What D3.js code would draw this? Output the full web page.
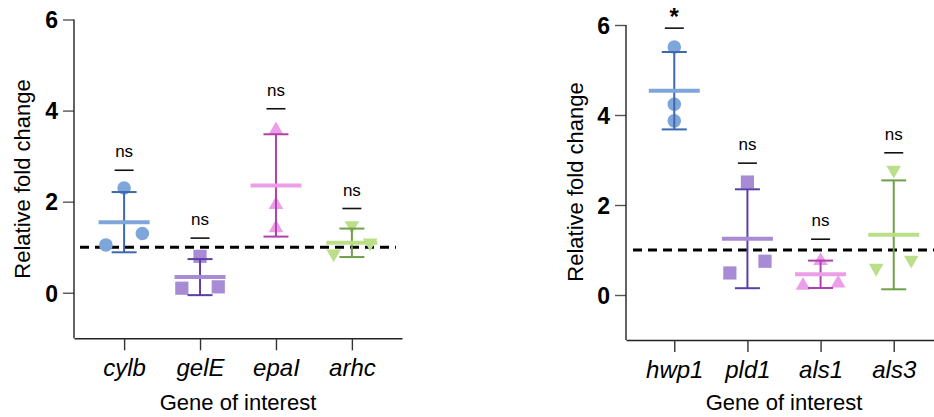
<!DOCTYPE html>
<html>
<head>
<meta charset="utf-8">
<script src="https://cdn.jsdelivr.net/npm/d3@7"></script>
<style>
	body { margin: 0; background: #fff; }
	svg text { font-family: "Liberation Sans", Arial, Helvetica, sans-serif; }
</style>
</head>
<body>
<div id="chart"></div>
<script>

	/* relative fold change per gene, three replicates each; slot = jitter column (-1 left, 0 middle, 1 right) */

	var genesLeft = ["cylb", "gelE", "epaI", "arhc"];
	var valuesLeft = [
		[2.3, 1.05, 1.3],
		[0.8, 0.1, 0.13],
		[3.62, 1.98, 1.47],
		[1.43, 0.81, 1.05]
	];
	var slotsLeft = [
		[0, -1, 1],
		[0, -1, 1],
		[0, 0, 0],
		[0, -1, 1]
	];
	var sigLeft = ["ns", "ns", "ns", "ns"];
	var sigLevelLeft = [2.69, 1.2, 4.04, 1.85];

	var genesRight = ["hwp1", "pld1", "als1", "als3"];
	var valuesRight = [
		[5.51, 4.24, 3.87],
		[2.51, 0.49, 0.75],
		[0.81, 0.26, 0.31],
		[2.73, 0.55, 0.73]
	];
	var slotsRight = [
		[0, 0, 0],
		[0, -1, 1],
		[0, -1, 1],
		[0, -1, 1]
	];
	var sigRight = ["*", "ns", "ns", "ns"];
	var sigLevelRight = [5.93, 2.93, 1.24, 3.16];

	var yTicks = [0, 2, 4, 6];
	var baseline = 1;

	var shapes = ["circle", "square", "triangleUp", "triangleDown"];
	var fills = ["#7ea6da", "#a78bd5", "#ec9ee9", "#badf88"];
	var strokes = ["#3e67b1", "#5c3ea7", "#b040ad", "#6f9f46"];

	var w = 934, h = 417;

	var svg = d3.select("#chart")
		.append("svg")
		.attr("width", w)
		.attr("height", h)
		.attr("viewBox", "0 0 " + w + " " + h);

	function circlePath(cx, cy, r) {
		var p = d3.path();
		p.arc(cx, cy, r, 0, 2 * Math.PI);
		p.closePath();
		return p.toString();
	}

	function symbolPath(shape, cx, cy) {
		if (shape == "circle") {
			return circlePath(cx, cy, 6.8);
		}
		if (shape == "square") {
			var s = 6.6;
			return "M" + (cx - s) + "," + (cy - s) + "H" + (cx + s) + "V" + (cy + s) + "H" + (cx - s) + "Z";
		}
		var hw = 7.3, hh = 6.4;
		if (shape == "triangleUp") {
			return "M" + cx + "," + (cy - hh) + "L" + (cx + hw) + "," + (cy + hh) + "L" + (cx - hw) + "," + (cy + hh) + "Z";
		}
		return "M" + cx + "," + (cy + hh) + "L" + (cx + hw) + "," + (cy - hh) + "L" + (cx - hw) + "," + (cy - hh) + "Z";
	}

	function drawPanel(cfg) {
		var g = svg.append("g").attr("class", "panel");

		var x = d3.scalePoint()
			.domain(cfg.genes)
			.range([cfg.x0, cfg.x1])
			.padding(0.66);

		var y = d3.scaleLinear()
			.domain([-1, 6])
			.range([cfg.y0, cfg.y1]);

		// y axis
		var yAxis = g.append("g")
			.attr("transform", "translate(" + cfg.x0 + ",0)")
			.call(d3.axisLeft(y).tickValues(yTicks).tickFormat(d3.format("d")).tickSize(11).tickPadding(5).tickSizeOuter(0));
		yAxis.select(".domain").remove();
		yAxis.append("line")
			.attr("x1", 0).attr("x2", 0)
			.attr("y1", y(6)).attr("y2", cfg.y0)
			.attr("stroke", "#222").attr("stroke-width", 1.4);
		yAxis.selectAll(".tick line").attr("stroke", "#555").attr("stroke-width", 1.4);
		yAxis.selectAll(".tick text")
			.attr("fill", "#000")
			.style("font-size", "23px")
			.style("font-weight", "bold")
			.attr("dy", "0.36em");

		// x axis
		var xAxis = g.append("g")
			.attr("transform", "translate(0," + cfg.y0 + ")")
			.call(d3.axisBottom(x).tickSize(12).tickPadding(9).tickSizeOuter(0));
		xAxis.select(".domain").attr("stroke", "#222").attr("stroke-width", 1.4);
		xAxis.selectAll(".tick line").attr("stroke", "#333").attr("stroke-width", 1.4);
		xAxis.selectAll(".tick text")
			.attr("fill", "#000")
			.style("font-size", "24px")
			.style("font-style", "italic")
			.attr("dy", "0.71em");

		g.append("text")
			.attr("x", cfg.xTitleX)
			.attr("y", 410)
			.attr("text-anchor", "middle")
			.style("font-size", "22px")
			.text("Gene of interest");

		g.append("text")
			.attr("transform", "translate(" + cfg.yTitleX + "," + cfg.yTitleY + ") rotate(-90)")
			.attr("text-anchor", "middle")
			.attr("dy", "0.35em")
			.style("font-size", "22px")
			.text("Relative fold change");

		// reference line at fold change 1
		g.append("line")
			.attr("x1", cfg.dashStart).attr("x2", cfg.dashEnd)
			.attr("y1", y(baseline)).attr("y2", y(baseline))
			.attr("stroke", "#000")
			.attr("stroke-width", 3)
			.attr("stroke-dasharray", "9,6");

		var step = x.step();

		cfg.genes.forEach(function(gene, i) {
			var vals = cfg.values[i];
			var cx = x(gene);
			var mean = d3.mean(vals);
			var sd = d3.deviation(vals);

			// points
			g.append("g")
				.selectAll("path")
				.data(vals)
				.enter()
				.append("path")
				.attr("d", function(d, j) {
					return symbolPath(shapes[i], cx + cfg.slots[i][j] * step * 0.24, y(d));
				})
				.attr("fill", fills[i]);

			// error bar
			g.append("line")
				.attr("x1", cx).attr("x2", cx)
				.attr("y1", y(mean + sd)).attr("y2", y(mean - sd))
				.attr("stroke", strokes[i]).attr("stroke-width", 2);
			[mean + sd, mean - sd].forEach(function(v) {
				g.append("line")
					.attr("x1", cx - 12.5).attr("x2", cx + 12.5)
					.attr("y1", y(v)).attr("y2", y(v))
					.attr("stroke", strokes[i]).attr("stroke-width", 2);
			});

			// mean
			g.append("line")
				.attr("x1", cx - 25.5).attr("x2", cx + 25.5)
				.attr("y1", y(mean)).attr("y2", y(mean))
				.attr("stroke", fills[i]).attr("stroke-width", 4);

			// significance
			var sy = y(cfg.sigLevel[i]);
			g.append("line")
				.attr("x1", cx - 9.5).attr("x2", cx + 9.5)
				.attr("y1", sy).attr("y2", sy)
				.attr("stroke", "#111").attr("stroke-width", 1.6);
			var lab = cfg.sig[i];
			g.append("text")
				.attr("x", cx)
				.attr("y", lab == "*" ? sy - 3 : sy - 13)
				.attr("text-anchor", "middle")
				.style("font-size", lab == "*" ? "24px" : "17px")
				.style("font-weight", lab == "*" ? "bold" : "normal")
				.text(lab);
		});
	}

	drawPanel({
		genes: genesLeft, values: valuesLeft, slots: slotsLeft,
		sig: sigLeft, sigLevel: sigLevelLeft,
		x0: 74, x1: 402, y0: 338.3, y1: 19.5,
		dashStart: 80, dashEnd: 396,
		xTitleX: 238, yTitleX: 22, yTitleY: 179
	});

	drawPanel({
		genes: genesRight, values: valuesRight, slots: slotsRight,
		sig: sigRight, sigLevel: sigLevelRight,
		x0: 626, x1: 942, y0: 340, y1: 25,
		dashStart: 633, dashEnd: 934,
		xTitleX: 784, yTitleX: 575, yTitleY: 182
	});

</script>
</body>
</html>
